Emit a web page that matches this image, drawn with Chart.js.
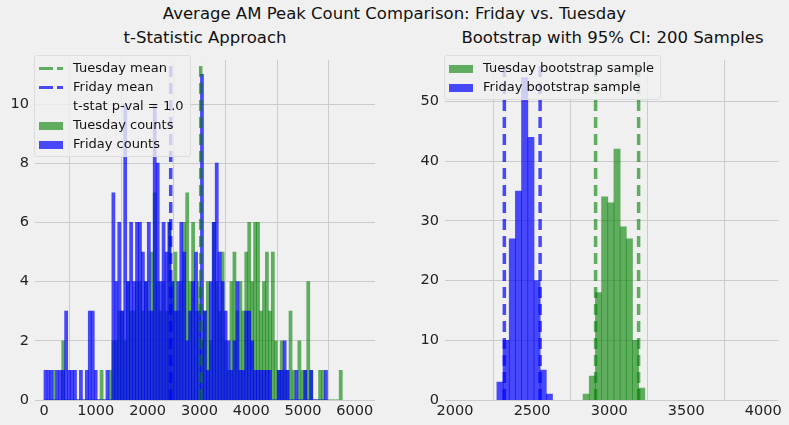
<!DOCTYPE html>
<html>
<head>
<meta charset="utf-8">
<script src="https://cdn.jsdelivr.net/npm/chart.js@4"></script>
<style>
  body { margin: 0; background: #f0f0f0; font-family: "DejaVu Sans", sans-serif; }
  #wrap { position: relative; width: 789px; height: 425px; }
  .title { position: absolute; width: 789px; text-align: center; top: 4px; font-size: 16.5px; color: #111; }
  .sub { position: absolute; top: 28px; font-size: 16.5px; color: #111; text-align: center; }
  canvas { position: absolute; }
  .legend { position: absolute; background: rgba(240,240,240,0.8); border: 1px solid #ddd; border-radius: 3px;
            font-size: 13px; color: #111; padding: 2px 6px 3px 4px; }
  .legend div { height: 19px; line-height: 19px; white-space: nowrap; }
  .sw { display: inline-block; width: 24px; height: 8px; vertical-align: middle; margin-right: 10px; }
  .dash { display: inline-block; width: 24px; height: 3px; vertical-align: middle; margin-right: 10px; }
</style>
</head>
<body>
<div id="wrap">
  <div class="title">Average AM Peak Count Comparison: Friday vs. Tuesday</div>
  <div class="sub" style="left:35px;width:340px">t-Statistic Approach</div>
  <div class="sub" style="left:445px;width:335px">Bootstrap with 95% CI: 200 Samples</div>
  <canvas id="left" width="380" height="380" style="left:0;top:45px"></canvas>
  <canvas id="right" width="375" height="380" style="left:410px;top:45px"></canvas>
  <div class="legend" style="left:34px;top:55px">
    <div><span class="dash" style="background:repeating-linear-gradient(90deg,rgba(0,128,0,0.6) 0 14px,transparent 14px 18px,rgba(0,128,0,0.6) 18px 22px,transparent 22px)"></span>Tuesday mean</div>
    <div><span class="dash" style="background:repeating-linear-gradient(90deg,rgba(0,0,255,0.7) 0 14px,transparent 14px 18px,rgba(0,0,255,0.7) 18px 22px,transparent 22px)"></span>Friday mean</div>
    <div><span class="dash"></span>t-stat p-val = 1.0</div>
    <div><span class="sw" style="background:rgba(0,128,0,0.6)"></span>Tuesday counts</div>
    <div><span class="sw" style="background:rgba(0,0,255,0.7)"></span>Friday counts</div>
  </div>
  <div class="legend" style="left:444px;top:55px">
    <div><span class="sw" style="background:rgba(0,128,0,0.6)"></span>Tuesday bootstrap sample</div>
    <div><span class="sw" style="background:rgba(0,0,255,0.7)"></span>Friday bootstrap sample</div>
  </div>
</div>
<script>
// left panel: raw count histograms, bins of 57 starting at 0
var binWidth = 57;
var fridayCounts = [1,1,1,0,1,1,1,3,1,1,1,0,1,0,1,3,3,1,0,0,0,1,0,7,4,6,3,10,4,6,
                    4,6,6,5,4,6,3,10,8,4,6,5,6,4,3,4,6,5,2,3,4,5,3,11,3,1,4,6,8,5,
                    4,3,2,1,2,4,1,1,3,3,2,1,1,1,1,1,1,0,0,1,1,2,1,0,0,1,0,0,1,0,
                    1,0,0,0,0,1];
var tuesdayCounts = [0,0,0,1,0,0,2,0,0,0,0,0,0,0,0,0,0,0,0,1,0,0,1,2,2,3,3,2,4,3,
                     3,4,4,3,4,3,5,7,4,3,4,3,6,4,5,3,4,6,7,4,6,3,4,2,3,4,2,6,4,3,
                     5,2,1,4,5,3,4,3,5,6,4,6,6,3,4,5,3,5,2,1,2,1,1,3,1,0,2,1,1,4,
                     1,0,0,1,1,0,0,0,0,0,1];
var tuesdayMean = 3025;
var fridayMean = 2446;
var leftTicks = [0, 1000, 2000, 3000, 4000, 5000, 6000];
var leftYTicks = [0, 2, 4, 6, 8, 10];

// right panel: bootstrap means, bins of 40
var bootWidth = 40;
var fridayBootStart = 2272;
var fridayBoot = [3,10,27,35,54,44,20,5,1];
var tuesdayBootStart = 2831;
var tuesdayBoot = [1,4,18,34,33,42,29,27,10,2];
var fridayCI = [2320, 2552];
var tuesdayCI = [2912, 3191];
var rightTicks = [2000, 2500, 3000, 3500, 4000];
var rightYTicks = [0, 10, 20, 30, 40, 50];

var green = 'rgba(0,128,0,0.6)';
var blue = 'rgba(0,0,255,0.7)';
var gridColor = '#cbcbcb';
var tickFont = { family: 'DejaVu Sans', size: 14.5 };

function toPoints(counts, start, width) {
    return counts.map(function (c, i) { return { x: start + (i + 0.5) * width, y: c }; });
}

function barSet(label, data, color, order) {
    return { type: 'bar', label: label, data: data, backgroundColor: color, grouped: false,
             barPercentage: 1, categoryPercentage: 1, borderWidth: 0, inflateAmount: 0.4, order: order };
}

function vline(x, top, color) {
    return { type: 'line', data: [{ x: x, y: 0 }, { x: x, y: top }], borderColor: color,
             borderWidth: 3.5, borderDash: [11, 6], pointRadius: 0, order: 1 };
}

function fixedTicks(list) {
    return function (s) { s.ticks = list.map(function (v) { return { value: v }; }); };
}

function makeChart(id, datasets, xmin, xmax, ymax, yWidth, xticks, yticks) {
    new Chart(document.getElementById(id), {
        type: 'bar',
        data: { datasets: datasets },
        options: {
            responsive: false,
            animation: false,
            layout: { padding: { top: 5, right: 5 } },
            plugins: { legend: { display: false }, tooltip: { enabled: false } },
            scales: {
                x: {
                    type: 'linear', min: xmin, max: xmax, offset: false,
                    afterBuildTicks: fixedTicks(xticks),
                    ticks: { font: tickFont, color: '#222', autoSkip: false, maxRotation: 0,
                             callback: function (v) { return String(v); } },
                    grid: { color: gridColor, lineWidth: 1, drawTicks: false },
                    border: { display: false },
                    afterFit: function (s) { s.height = 25; }
                },
                y: {
                    min: 0, max: ymax,
                    afterBuildTicks: fixedTicks(yticks),
                    ticks: { font: tickFont, color: '#222', padding: 6,
                             callback: function (v) { return String(v); } },
                    grid: { color: gridColor, lineWidth: 1, drawTicks: false },
                    border: { display: false },
                    afterFit: function (s) { s.width = yWidth; }
                }
            }
        }
    });
}

makeChart('left', [
    vline(tuesdayMean, 11.5, green),
    vline(fridayMean, 11.5, blue),
    barSet('Friday counts', toPoints(fridayCounts, 0, binWidth), blue, 2),
    barSet('Tuesday counts', toPoints(tuesdayCounts, 0, binWidth), green, 3)
], -174, 6390, 11.5, 35, leftTicks, leftYTicks);

makeChart('right', [
    vline(tuesdayCI[0], 57, green), vline(tuesdayCI[1], 57, green),
    vline(fridayCI[0], 57, blue), vline(fridayCI[1], 57, blue),
    barSet('Friday bootstrap sample', toPoints(fridayBoot, fridayBootStart, bootWidth), blue, 2),
    barSet('Tuesday bootstrap sample', toPoints(tuesdayBoot, tuesdayBootStart, bootWidth), green, 3)
], 1935, 4097, 57, 35, rightTicks, rightYTicks);
</script>
</body>
</html>
